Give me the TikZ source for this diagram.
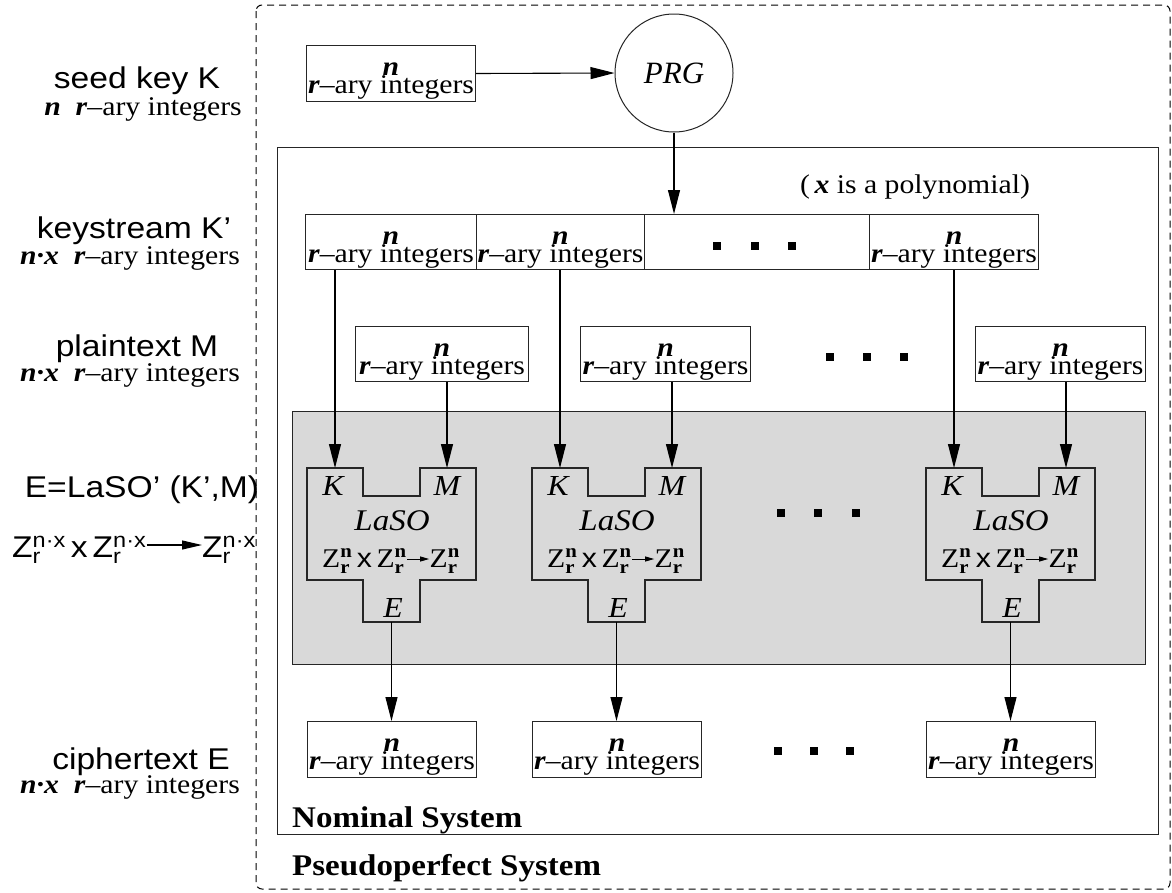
\documentclass[tikz,border=0pt]{standalone}
\usepackage{fontspec}
\usepackage{amsmath}
\setmainfont{Liberation Serif}[FakeStretch=1.1]
\setsansfont{Liberation Sans}[FakeStretch=1.12]
\newfontfamily\prgfont{Liberation Serif}
\usetikzlibrary{arrows.meta,calc}
\definecolor{greybg}{HTML}{D9D9D9}
\newcommand\bn{\textbf{\textit{n}}}
\newcommand\br{\textbf{\textit{r}}}
\newcommand\bnx{\textbf{\textit{n·x}}}
\newcommand\zn{Z$^{\textbf{n}}_{\textbf{r}}$}
\newcommand\znx{Z$^{\text{n·x}}_{\text{r}}$}
\newcommand\smallarr{\tikz[baseline=0pt,x=1pt,y=1pt]\draw[line width=0.9pt,-{Triangle[length=9pt,width=5pt]}] (0,8)--(22,8);}
\tikzset{
  ibox/.style={draw=black!85, line width=1pt, inner sep=0, anchor=north west},
  bt/.style={font=\fontsize{27}{27}\selectfont, inner sep=0, anchor=base},
  lab/.style={font=\sffamily\fontsize{30}{30}\selectfont, inner sep=0, anchor=base},
  lt/.style={font=\fontsize{30}{30}\selectfont\itshape, inner sep=0, anchor=base},
  zt/.style={font=\fontsize{27}{27}\selectfont, inner sep=0, anchor=base},
  arr/.style={line width=1.1pt, -{Triangle[length=24pt,width=12pt]}},
  sqdot/.style={fill=black, minimum size=8pt, inner sep=0, rectangle},
  lasoline/.style={draw=black!85, line width=1.2pt},
  title/.style={font=\fontsize{30}{30}\selectfont\bfseries, inner sep=0, anchor=base west}
}
% name, left x, top y, width, height
\newcommand\nrbox[5]{%
  \node[ibox, minimum width=#4pt, minimum height=#5pt] (#1) at (#2,#3) {};
  \node[bt] (#1n) at ($(#1.north)+(0,30)$) {\bn};
  \node[bt] (#1t) at ($(#1.north)+(0,48)$) {\br–ary integers};
}
% name, left x
\newcommand\laso[2]{%
  \draw[lasoline] (#2,468) -- ({#2+56},468) -- ({#2+56},496) -- ({#2+113},496)
    -- ({#2+113},468) -- ({#2+169},468) -- ({#2+169},580) -- ({#2+113},580)
    -- ({#2+113},622) -- ({#2+56},622) -- ({#2+56},580) -- (#2,580) -- cycle;
  \coordinate (#1k) at ({#2+28},468);
  \coordinate (#1m) at ({#2+140},468);
  \coordinate (#1e) at ({#2+84.5},622);
  \node[lt, font=\fontsize{29}{29}\selectfont\itshape] (#1K) at ({#2+26},495) {K};
  \node[lt, font=\fontsize{29}{29}\selectfont\itshape] (#1M) at ({#2+140},495) {M};
  \node[lt] (#1L) at ({#2+85},530) {LaSO};
  \node[zt] (#1Z) at ({#2+84},567) {\zn\,{\sffamily x}\,\zn\smallarr\zn};
  \node[lt, font=\fontsize{29}{29}\selectfont\itshape] (#1E) at ({#2+86},617) {E};
}
\begin{document}
\begin{tikzpicture}[x=1pt,y=-1pt]
\useasboundingbox (0,0) rectangle (1172,892);
% frames
\draw[black, line width=1pt, dash pattern=on 7pt off 5pt, rounded corners=6pt] (256,5) rectangle (1170,889);
\draw[black!85, line width=1pt] (277,147) rectangle (1158,834);
\draw[black!85, line width=1pt, fill=greybg] (292,411) rectangle (1145,664);
\node[title] (nom) at (292,827) {Nominal System};
\node[title] (pseudo) at (292,875) {Pseudoperfect System};

% left labels
\node[lab] (l1) at (137,88) {seed key K};
\node[bt] (l1b) at (143,115) {\bn\ \ \br–ary integers};
\node[lab] (l2) at (134,238) {keystream K’};
\node[bt] (l2b) at (130,264) {\bnx\ \ \br–ary integers};
\node[lab] (l3) at (137,356) {plaintext M};
\node[bt] (l3b) at (130,381) {\bnx\ \ \br–ary integers};
\node[lab] (l4) at (142,497) {E=LaSO’ (K’,M)};
\node[lab, anchor=base west] (zl1) at (12,557) {\znx\,x\,\znx};
\node[lab, anchor=base west] (zl2) at (202,557) {\znx};
\draw[line width=1.1pt, -{Triangle[length=20pt,width=9pt]}] ([yshift=12pt]zl1.base east) -- ([yshift=12pt]zl2.base west);
\node[lab] (l5) at (141,769) {ciphertext E};
\node[bt] (l5b) at (130,793) {\bnx\ \ \br–ary integers};

% seed and PRG
\nrbox{seed}{306}{45}{169}{56}
\node[circle, draw=black!85, line width=1pt, minimum size=118pt, inner sep=0,
      font=\prgfont\fontsize{31}{31}\selectfont\itshape] (prg) at (674,73) {PRG};
\draw[arr] (seed.east) -- (prg.west);

% keystream
\nrbox{ksa}{305}{214}{171}{55}
\nrbox{ksb}{476}{214}{168}{55}
\node[ibox, minimum width=225pt, minimum height=55pt] (ksc) at (644,214) {};
\nrbox{ksd}{869}{214}{169}{55}
\node[sqdot] (kd1) at (717,246) {};
\node[sqdot] (kd2) at (755,246) {};
\node[sqdot] (kd3) at (792,246) {};
\draw[arr] (prg.south) -- (prg.south |- ksc.north);
\node[bt, anchor=base west] (poly) at (800,193) {(\,\textbf{\textit{x}} is a polynomial)};

% plaintext
\nrbox{pta}{355}{326}{173}{55}
\nrbox{ptb}{580}{326}{170}{55}
\nrbox{ptc}{975}{326}{170}{55}
\node[sqdot] (pd1) at (830,357) {};
\node[sqdot] (pd2) at (867,357) {};
\node[sqdot] (pd3) at (904,357) {};

% LaSO blocks
\laso{La}{307}
\laso{Lb}{532}
\laso{Lc}{926}
\node[sqdot] (ld1) at (781,513) {};
\node[sqdot] (ld2) at (818,513) {};
\node[sqdot] (ld3) at (856,513) {};

% ciphertext
\nrbox{cta}{307}{721}{169}{56}
\nrbox{ctb}{532}{721}{169}{56}
\nrbox{ctc}{926}{721}{169}{56}
\node[sqdot] (cd1) at (778,751) {};
\node[sqdot] (cd2) at (814,751) {};
\node[sqdot] (cd3) at (850,751) {};

% connectors
\draw[arr] (ksa.south -| Lak) -- (Lak);
\draw[arr] (ksb.south -| Lbk) -- (Lbk);
\draw[arr] (ksd.south -| Lck) -- (Lck);
\draw[arr] (pta.south -| Lam) -- (Lam);
\draw[arr] (ptb.south -| Lbm) -- (Lbm);
\draw[arr] (ptc.south -| Lcm) -- (Lcm);
\draw[arr] (Lae) -- (cta.north -| Lae);
\draw[arr] (Lbe) -- (ctb.north -| Lbe);
\draw[arr] (Lce) -- (ctc.north -| Lce);
\end{tikzpicture}
\end{document}
